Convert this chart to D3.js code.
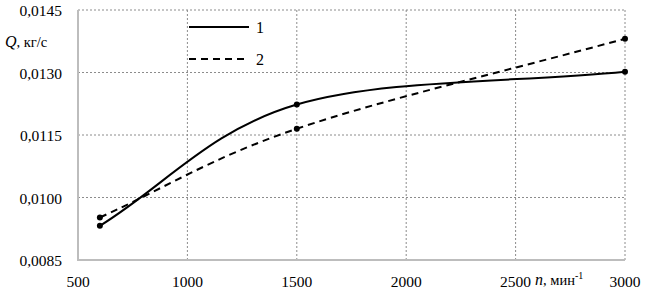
<!DOCTYPE html>
<html lang="ru">
<head>
<meta charset="utf-8">
<title>Q(n)</title>
<script src="https://cdn.jsdelivr.net/npm/d3@7"></script>
<style>
  body { margin: 0; background: #fff; }
  .grid line { stroke: #8c8c8c; stroke-dasharray: 2,2; stroke-width: 1; }
</style>
</head>
<body>
<script>
// data
const nValues = [600, 1500, 3000];
const series1 = [0.00932, 0.01223, 0.01302];
const series2 = [0.00952, 0.01165, 0.01381];
const xTicks = [500, 1000, 1500, 2000, 2500, 3000];
const yTicks = [0.0085, 0.0100, 0.0115, 0.0130, 0.0145];
const legendNames = ["1", "2"];

const W = 647, H = 290;
const m = { left: 78, right: 22, top: 10, bottom: 30 };
const fontFam = "Liberation Serif, Times New Roman, DejaVu Serif, serif";

const svg = d3.select("body").append("svg")
  .attr("width", W).attr("height", H)
  .attr("font-family", fontFam);

const x = d3.scaleLinear().domain([500, 3000]).range([m.left, W - m.right]);
const y = d3.scaleLinear().domain([0.0085, 0.0145]).range([H - m.bottom, m.top]);

// smoothed line like the spreadsheet one: bezier, inner tangents (P[i+1]-P[i-1])/6,
// end control points a third of the way to the neighbour
function smoothPath(pts) {
  const p = d3.path();
  p.moveTo(pts[0][0], pts[0][1]);
  for (let i = 0; i < pts.length - 1; i++) {
    const a = pts[i], b = pts[i + 1];
    const c1 = i === 0
      ? [a[0] + (b[0] - a[0]) / 3, a[1] + (b[1] - a[1]) / 3]
      : [a[0] + (b[0] - pts[i - 1][0]) / 6, a[1] + (b[1] - pts[i - 1][1]) / 6];
    const c2 = i === pts.length - 2
      ? [b[0] - (b[0] - a[0]) / 3, b[1] - (b[1] - a[1]) / 3]
      : [b[0] - (pts[i + 2][0] - a[0]) / 6, b[1] - (pts[i + 2][1] - a[1]) / 6];
    p.bezierCurveTo(c1[0], c1[1], c2[0], c2[1], b[0], b[1]);
  }
  return p.toString();
}

// grid
const grid = svg.append("g").attr("class", "grid");
grid.selectAll("line.v").data(xTicks.slice(1)).join("line")
  .attr("class", "v")
  .attr("x1", d => x(d)).attr("x2", d => x(d))
  .attr("y1", y(0.0145)).attr("y2", y(0.0085));
grid.selectAll("line.h").data(yTicks.slice(1)).join("line")
  .attr("class", "h")
  .attr("x1", x(500)).attr("x2", x(3000))
  .attr("y1", d => y(d)).attr("y2", d => y(d));

// axes lines
svg.append("line")
  .attr("x1", x(500)).attr("x2", x(500))
  .attr("y1", y(0.0145)).attr("y2", y(0.0085))
  .attr("stroke", "#bdbdbd").attr("stroke-width", 2);
svg.append("line")
  .attr("x1", x(500) - 1).attr("x2", x(3000))
  .attr("y1", y(0.0085)).attr("y2", y(0.0085))
  .attr("stroke", "#bdbdbd").attr("stroke-width", 2);

// tick labels
const fmt = v => v.toFixed(4).replace(".", ",");
svg.append("g").selectAll("text").data(yTicks).join("text")
  .attr("x", 62).attr("y", d => y(d) + 6)
  .attr("text-anchor", "end").attr("font-size", 15.5)
  .text(fmt);
svg.append("g").selectAll("text").data(xTicks).join("text")
  .attr("x", d => x(d)).attr("y", 287)
  .attr("text-anchor", "middle").attr("font-size", 15.5)
  .text(d => d);

// axis titles
const yt = svg.append("text").attr("x", 5).attr("y", 47).attr("font-size", 14.5);
yt.append("tspan").attr("font-style", "italic").attr("font-size", 16).text("Q");
yt.append("tspan").text(", кг/с");

const xt = svg.append("text").attr("x", 535).attr("y", 285).attr("font-size", 14.5);
xt.append("tspan").attr("font-style", "italic").attr("font-size", 16).text("n");
xt.append("tspan").text(", мин");
xt.append("tspan").attr("font-size", 10).attr("dy", -6).text("-1");

// series
const allSeries = [
  { vals: series1, dash: null },
  { vals: series2, dash: "7,5" }
];

allSeries.forEach(s => {
  const pts = s.vals.map((v, i) => [x(nValues[i]), y(v)]);
  svg.append("path")
    .attr("d", smoothPath(pts))
    .attr("fill", "none").attr("stroke", "#000")
    .attr("stroke-width", 2)
    .attr("stroke-dasharray", s.dash);
  svg.append("g").selectAll("circle").data(s.vals).join("circle")
    .attr("cx", (d, i) => x(nValues[i])).attr("cy", d => y(d))
    .attr("r", 3).attr("fill", "#000");
});

// legend
const legend = svg.append("g");
allSeries.forEach((s, i) => {
  const ly = 27 + i * 32;
  legend.append("line")
    .attr("x1", 189).attr("x2", 249).attr("y1", ly).attr("y2", ly)
    .attr("stroke", "#000").attr("stroke-width", 2)
    .attr("stroke-dasharray", s.dash);
  legend.append("text")
    .attr("x", 256).attr("y", ly + 6).attr("font-size", 16)
    .text(legendNames[i]);
});
</script>
</body>
</html>
